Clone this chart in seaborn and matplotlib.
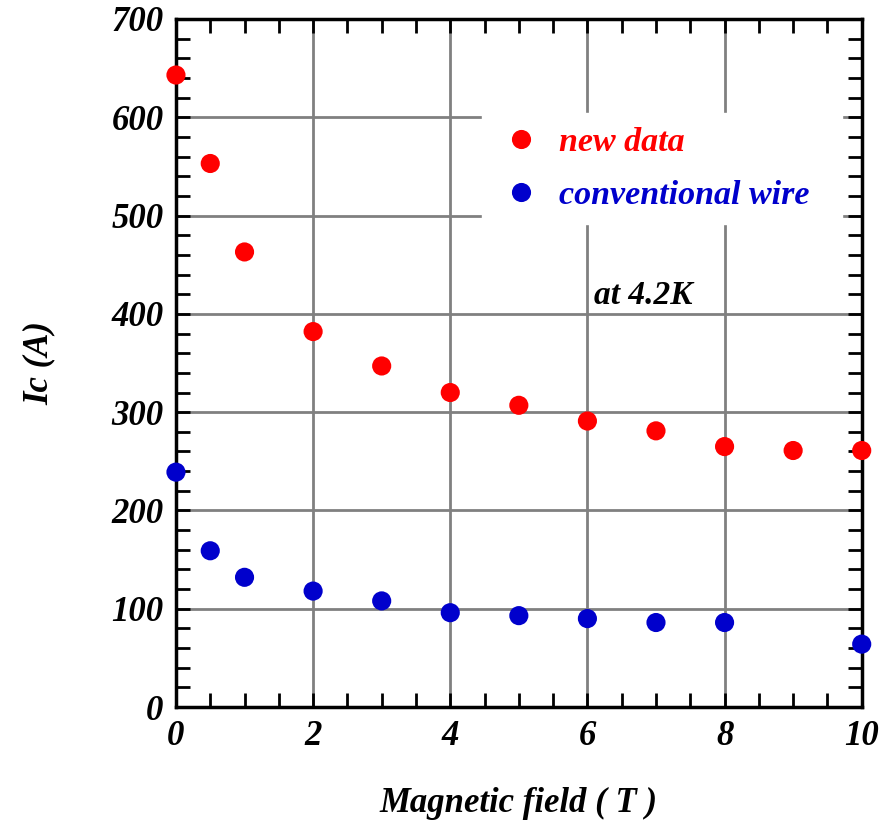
import numpy as np
import pandas as pd
import matplotlib
matplotlib.use("Agg")
import matplotlib.pyplot as plt
from matplotlib.ticker import MultipleLocator
import seaborn as sns

# field values (T) and critical current Ic (A)
field_new = [0, 0.5, 1, 2, 3, 4, 5, 6, 7, 8, 9, 10]
ic_new = [643, 553, 463, 382, 347, 320, 307, 291, 281, 265, 261, 261]

field_conv = [0, 0.5, 1, 2, 3, 4, 5, 6, 7, 8, 10]
ic_conv = [239, 159, 132, 118, 108, 96, 93, 90, 86, 86, 64]

series_names = ["new data", "conventional wire"]
series_colors = ["#ff0000", "#0000cc"]

df = pd.concat([
    pd.DataFrame({"field": field_new, "ic": ic_new, "series": series_names[0]}),
    pd.DataFrame({"field": field_conv, "ic": ic_conv, "series": series_names[1]}),
])

sns.set_style("ticks")
plt.rcParams["font.family"] = ["Liberation Serif", "DejaVu Serif"]
plt.rcParams["font.weight"] = "bold"
plt.rcParams["font.style"] = "italic"
plt.rcParams["text.color"] = "black"
plt.rcParams["axes.labelcolor"] = "black"
plt.rcParams["xtick.color"] = "black"
plt.rcParams["ytick.color"] = "black"

fig = plt.figure(figsize=(8.82, 8.26), dpi=100)
ax = fig.add_axes([0.1995, 0.144, 0.7775, 0.833])

sns.scatterplot(data=df, x="field", y="ic", hue="series",
                palette=dict(zip(series_names, series_colors)),
                s=190, edgecolor="none", clip_on=False, zorder=5, ax=ax)

ax.set_xlim(0, 10)
ax.set_ylim(0, 700)
ax.xaxis.set_major_locator(MultipleLocator(2))
ax.xaxis.set_minor_locator(MultipleLocator(0.5))
ax.yaxis.set_major_locator(MultipleLocator(100))
ax.yaxis.set_minor_locator(MultipleLocator(20))

ax.grid(True, which="major", color="#808080", linewidth=2)
ax.set_axisbelow(True)
ax.tick_params(which="both", direction="in", top=True, right=True,
               length=10, width=2, color="black", labelcolor="black")
ax.tick_params(axis="x", which="major", pad=9.5)
ax.tick_params(axis="y", which="major", pad=9)
for lab in ax.get_xticklabels() + ax.get_yticklabels():
    lab.set_fontsize(25)
    lab.set_fontweight("bold")
    lab.set_fontstyle("italic")
for sp in ax.spines.values():
    sp.set_linewidth(2.5)
    sp.set_color("black")

ax.set_xlabel("Magnetic field ( T )", fontsize=25, fontweight="bold",
              fontstyle="italic", labelpad=24)
ax.set_ylabel("Ic (A)", fontsize=25, fontweight="bold",
              fontstyle="italic", labelpad=40)

ax.text(6.1, 410, "at 4.2K", fontsize=24, fontweight="bold",
        fontstyle="italic", ha="left", va="baseline")

leg = ax.legend(loc="upper left", bbox_to_anchor=(0.446, 0.70, 0.525, 0.163),
                mode="expand", frameon=True, fancybox=False, framealpha=1,
                facecolor="white", edgecolor="white",
                prop={"size": 24.5, "weight": "bold", "style": "italic"},
                handlelength=1.5, handletextpad=0.38, labelspacing=0.64,
                borderpad=0.4, borderaxespad=0, markerscale=1.0)
for txt, c in zip(leg.get_texts(), series_colors):
    txt.set_color(c)

fig.savefig("out.png", dpi=100)
